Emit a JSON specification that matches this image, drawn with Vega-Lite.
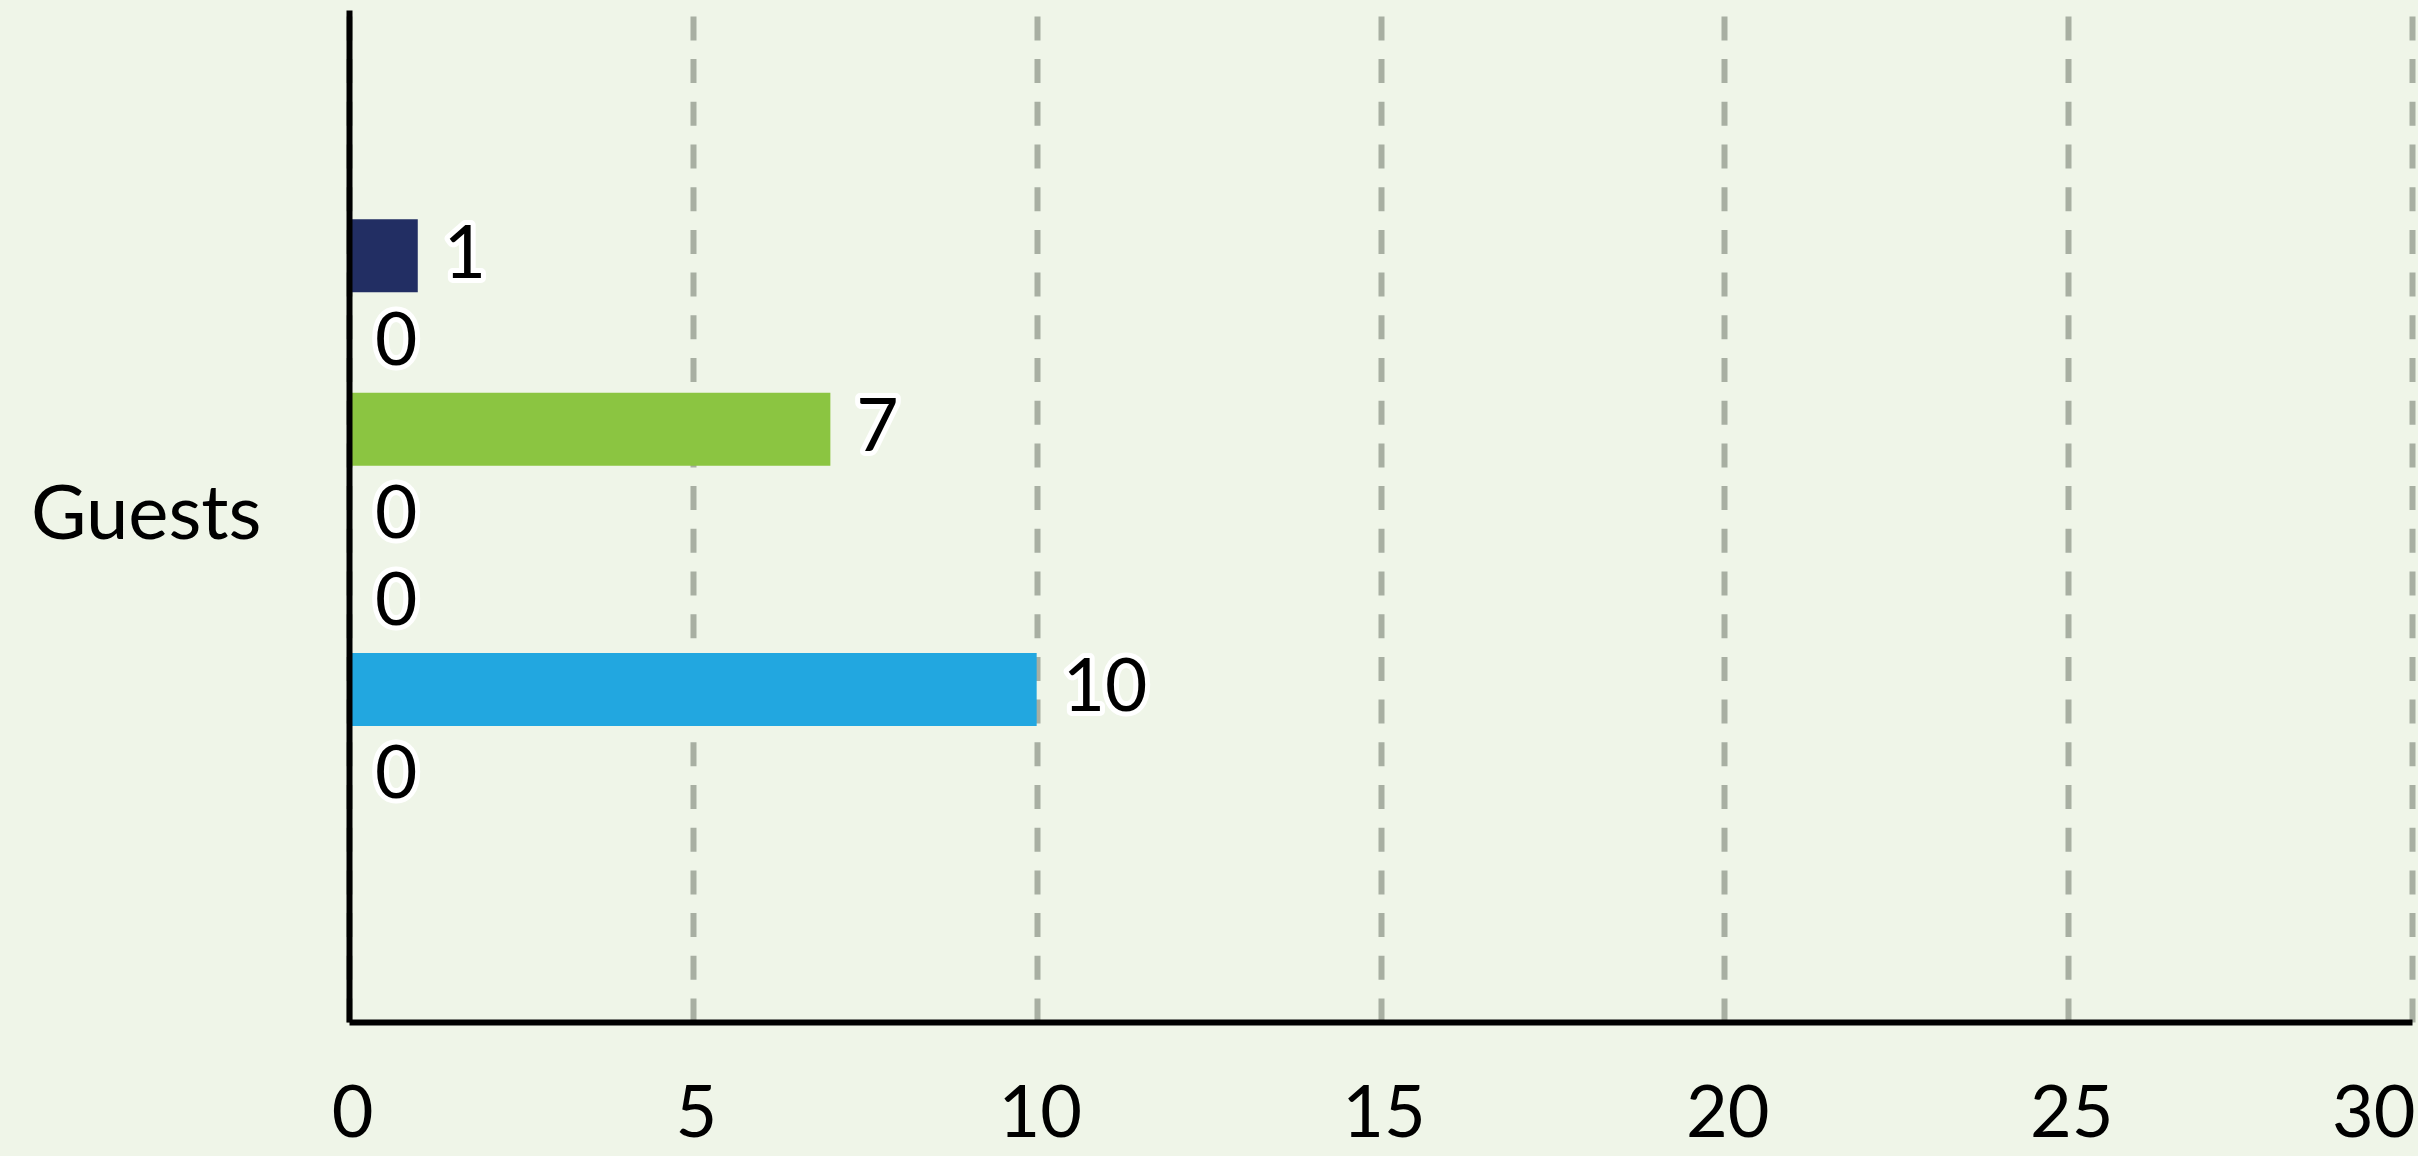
{
  "$schema": "https://vega.github.io/schema/vega-lite/v6.json",
  "autosize": {"type": "none"},
  "width": 2063,
  "height": 1012,
  "padding": {"left": 349, "top": 10, "right": 6, "bottom": 134},
  "background": "#EFF5E8",
  "config": {
    "view": {"stroke": null},
    "font": "Lato",
    "axis": {"labelFont": "Lato", "labelColor": "#000000"}
  },
  "data": {
    "values": [
      {"category": "Guests", "series": "s1", "value": 1},
      {"category": "Guests", "series": "s2", "value": 0},
      {"category": "Guests", "series": "s3", "value": 7},
      {"category": "Guests", "series": "s4", "value": 0},
      {"category": "Guests", "series": "s5", "value": 0},
      {"category": "Guests", "series": "s6", "value": 10},
      {"category": "Guests", "series": "s7", "value": 0}
    ]
  },
  "encoding": {
    "y": {
      "field": "category",
      "type": "nominal",
      "scale": {"paddingInner": 0, "paddingOuter": 0.3336},
      "axis": {
        "title": null,
        "domainColor": "#000000",
        "domainWidth": 6,
        "ticks": false,
        "labelFontSize": 76,
        "labelPadding": 88,
        "labelLimit": 0,
        "grid": false,
        "zindex": 1
      }
    },
    "yOffset": {
      "field": "series",
      "type": "nominal",
      "sort": ["s1", "s2", "s3", "s4", "s5", "s6", "s7"],
      "scale": {"paddingInner": 0.158, "paddingOuter": 0.079}
    },
    "x": {
      "field": "value",
      "type": "quantitative",
      "scale": {"domain": [0, 30], "nice": false},
      "axis": {
        "title": null,
        "values": [0, 5, 10, 15, 20, 25, 30],
        "domainColor": "#000000",
        "domainWidth": 6,
        "ticks": false,
        "labelFontSize": 72,
        "labelPadding": 57,
        "labelOffset": 3,
        "labelAlign": {"condition": {"test": "datum.value == 30", "value": "right"}, "value": "center"},
        "grid": true,
        "gridColor": "#A8AFA2",
        "gridWidth": 6,
        "gridDash": [24, 18.7]
      }
    }
  },
  "layer": [
    {
      "mark": {"type": "bar"},
      "encoding": {
        "color": {
          "field": "series",
          "type": "nominal",
          "scale": {
            "domain": ["s1", "s2", "s3", "s4", "s5", "s6", "s7"],
            "range": ["#222E63", "#F5A623", "#8BC541", "#D0021B", "#7B3F99", "#22A7E0", "#555555"]
          },
          "legend": null
        }
      }
    },
    {
      "mark": {"type": "text", "align": "left", "baseline": "middle", "dx": 26, "fontSize": 73, "font": "Lato", "fill": "#FFFFFF", "stroke": "#FFFFFF", "strokeWidth": 10, "strokeJoin": "round"},
      "encoding": {"text": {"field": "value", "type": "quantitative"}}
    },
    {
      "mark": {"type": "text", "align": "left", "baseline": "middle", "dx": 26, "fontSize": 73, "font": "Lato", "fill": "#000000"},
      "encoding": {"text": {"field": "value", "type": "quantitative"}}
    }
  ]
}
